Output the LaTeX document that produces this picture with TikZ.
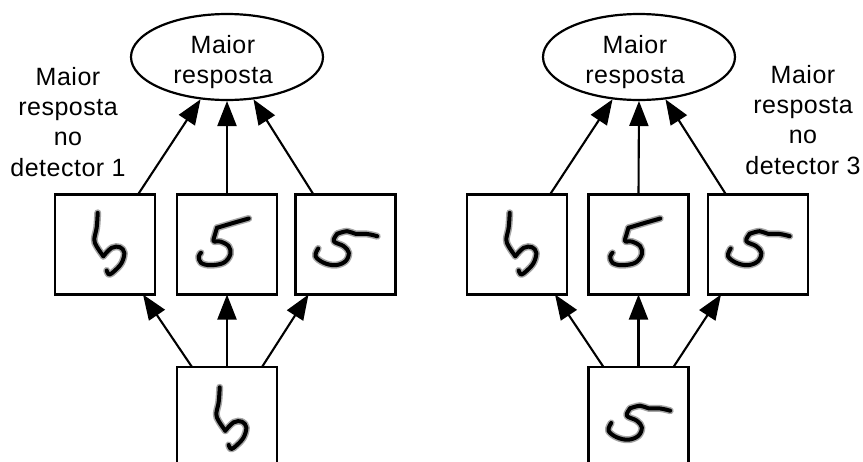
\documentclass[tikz,border=0pt]{standalone}
\usepackage{fontspec}
\setmainfont{Liberation Sans}[LetterSpace=2]
\usetikzlibrary{shapes.geometric,arrows.meta}

\tikzset{
  card/.style={draw, line width=2.2pt, minimum width=100pt, minimum height=100pt,
               inner sep=0pt, outer sep=0pt, fill=white},
  outcome/.style={draw, ellipse, line width=2.2pt, minimum width=192pt,
                  minimum height=86pt, inner sep=0pt, outer sep=1pt},
  caption/.style={align=center, inner sep=0pt, anchor=north,
                  font=\fontsize{25}{30.3}\selectfont},
  link/.style={line width=2.1pt, -{Triangle[length=25pt,width=19pt]}},
  halo/.style={line width=7pt, line cap=round, line join=round, black!35},
  ink/.style={line width=4pt, line cap=round, line join=round, black},
  % handwritten five with a tall stem
  pics/hookfive/.style={code={
    \foreach \s in {halo,ink}{
      \draw[\s] plot[smooth,tension=0.6] coordinates
        {(42.7,18.3) (41.7,33) (39.3,45) (41.7,52) (48.3,61.7)};
      \draw[\s] plot[smooth,tension=0.6] coordinates
        {(48.3,61.7) (56.7,53.3) (65,52.7) (69.3,58.3) (66.7,68.3) (60,76) (54.3,80) (51.7,76)};
    }
  }},
  % upright five with a slanted bar
  pics/slantfive/.style={code={
    \foreach \s in {halo,ink}{
      \draw[\s] (71.7,24) -- (56,28.5) -- (40,33.3);
      \draw[\s] plot[smooth,tension=0.6] coordinates
        {(40,33.3) (38,40) (36.7,46.7) (43.3,47) (51.7,51.7) (53.3,60) (46.7,68.3)
         (33.3,70.7) (24,68.3) (21.7,62) (24,58.3)};
    }
  }},
  % flat five with a long wavy bar
  pics/flatfive/.style={code={
    \foreach \s in {halo,ink}{
      \draw[\s] plot[smooth,tension=0.6] coordinates
        {(81.7,41.7) (71.7,39.5) (60,39.3) (51.7,36.7) (41.7,39.3)};
      \draw[\s] plot[smooth,tension=0.6] coordinates
        {(41.7,39.3) (38.3,46.7) (48.3,51.7) (53.3,58.3) (50,66.7) (40,70.7)
         (28.3,68.3) (20,61.7) (22.7,54)};
    }
  }},
}

\begin{document}
\begin{tikzpicture}[x=1pt,y=-1pt]
\useasboundingbox (0,0) rectangle (863,461);
\clip (0,0) rectangle (863,461);

% ---------- left group ----------
\node[outcome] (eL) at (227,57) {};
\node[caption] (tL) at (223,35) {Maior\\resposta};
\node[caption] (nL) at (68,67) {Maior\\resposta\\no\\detector 1};

\node[card] (aL) at (105,244.5) {};
\node[card] (bL) at (227,244.5) {};
\node[card] (cL) at (345.5,244.5) {};
\node[card] (iL) at (227,417) {};

\pic at (aL.north west) {hookfive};
\pic at (bL.north west) {slantfive};
\pic at (cL.north west) {flatfive};
\pic at ([yshift=-2pt]iL.north west) {hookfive};

\draw[link] ([xshift=-17pt]aL.north east) -- (eL.238);
\draw[link] (bL.north) -- (eL.south);
\draw[link] ([xshift=18pt]cL.north west) -- (eL.302);

\draw[link] ([xshift=15pt]iL.north west) -- ([xshift=-12pt]aL.south east);
\draw[link] (iL.north) -- (bL.south);
\draw[link] ([xshift=-15pt]iL.north east) -- ([xshift=13pt]cL.south west);

% ---------- right group ----------
\node[outcome] (eR) at (639,57) {};
\node[caption] (tR) at (635,35) {Maior\\resposta};
\node[caption] (nR) at (803,65) {Maior\\resposta\\no\\detector 3};

\node[card] (aR) at (517,244.5) {};
\node[card] (bR) at (638.5,244.5) {};
\node[card] (cR) at (758,244.5) {};
\node[card] (iR) at (638.5,417) {};

\pic at (aR.north west) {hookfive};
\pic at (bR.north west) {slantfive};
\pic at (cR.north west) {flatfive};
\pic at ([yshift=-2pt]iR.north west) {flatfive};

\draw[link] ([xshift=-17pt]aR.north east) -- (eR.238);
\draw[link] (bR.north) -- (eR.south);
\draw[link] ([xshift=18pt]cR.north west) -- (eR.302);

\draw[link] ([xshift=15pt]iR.north west) -- ([xshift=-12pt]aR.south east);
\draw[link] (iR.north) -- (bR.south);
\draw[link] ([xshift=-15pt]iR.north east) -- ([xshift=13pt]cR.south west);
\end{tikzpicture}
\end{document}
